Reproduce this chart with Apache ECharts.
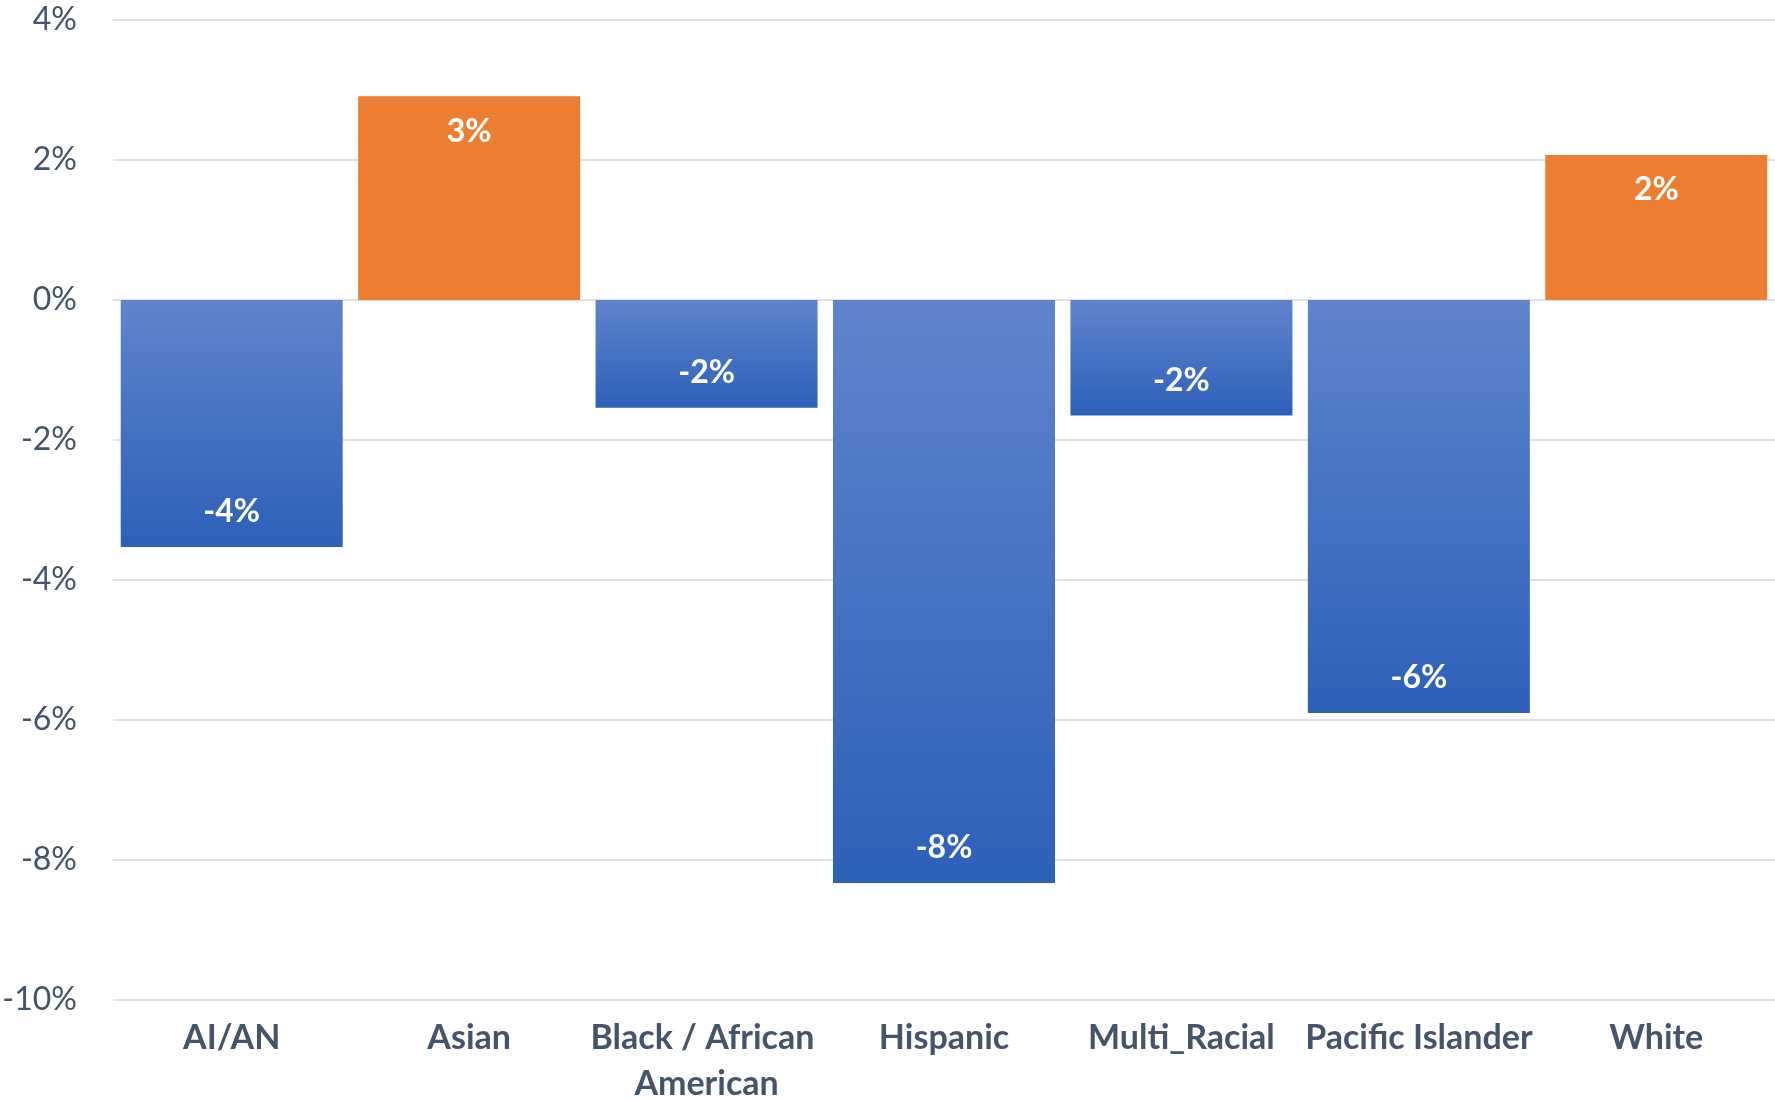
<!DOCTYPE html>
<html>
<head>
<meta charset="utf-8">
<script src="https://cdn.jsdelivr.net/npm/echarts@6/dist/echarts.min.js"></script>
<style>
  html, body { margin: 0; padding: 0; background: #fff; overflow: hidden; }
  #chart { width: 1775px; height: 1099px; }
</style>
</head>
<body>
<div id="chart"></div>
<script>
// data (percent)
const categories = ['AI/AN', 'Asian', 'Black / African American', 'Hispanic', 'Multi_Racial', 'Pacific Islander', 'White'];
const values = [-3.53, 2.91, -1.54, -8.33, -1.65, -5.9, 2.07];
const yTicks = [-10, -8, -6, -4, -2, 0, 2, 4];

const blueGradient = {
  type: 'linear', x: 0, y: 0, x2: 0, y2: 1,
  colorStops: [
    { offset: 0, color: '#5f84cc' },
    { offset: 1, color: '#2d60b9' }
  ]
};

const chart = echarts.init(document.getElementById('chart'));

const barData = values.map(v => ({
  value: v,
  itemStyle: { color: v >= 0 ? '#ed7d31' : blueGradient },
  label: { position: v >= 0 ? 'insideTop' : 'insideBottom' }
}));

const option = {
  backgroundColor: '#ffffff',
  animation: false,
  grid: { left: 113, right: 0, top: 20, bottom: 99, outerBoundsMode: 'none', containLabel: false },
  xAxis: {
    type: 'category',
    data: categories,
    axisLine: { show: false, onZero: false },
    axisTick: { show: false },
    axisLabel: {
      color: '#44546a',
      fontFamily: 'Lato',
      fontWeight: 'bold',
      fontSize: 34,
      margin: 15,
      lineHeight: 46,
      width: 240,
      overflow: 'break',
      interval: 0
    }
  },
  yAxis: {
    type: 'value',
    min: yTicks[0],
    max: yTicks[yTicks.length - 1],
    interval: 2,
    axisLine: { show: false },
    axisTick: { show: false },
    axisLabel: {
      color: '#44546a',
      fontFamily: 'Lato',
      fontSize: 32,
      margin: 36,
      formatter: v => v + '%'
    },
    splitLine: { lineStyle: { color: '#dde2ea', width: 2 } }
  },
  series: [{
    type: 'bar',
    data: barData,
    barCategoryGap: '6.5%',
    label: {
      show: true,
      color: '#ffffff',
      fontFamily: 'Lato',
      fontWeight: 'bold',
      fontSize: 32,
      distance: 19,
      formatter: p => Math.round(p.value) + '%'
    }
  }]
};

chart.setOption(option);
</script>
</body>
</html>
